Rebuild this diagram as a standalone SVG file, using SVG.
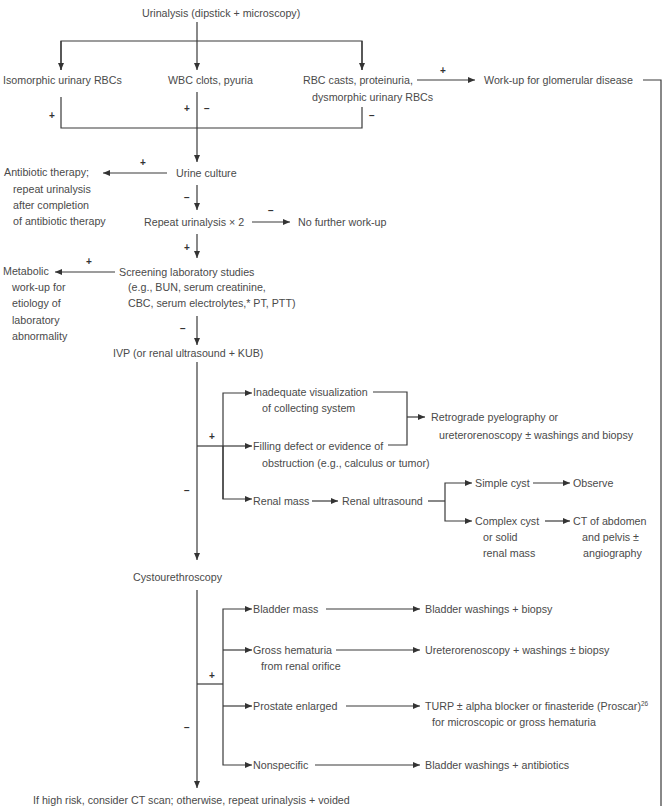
<svg xmlns="http://www.w3.org/2000/svg" width="664" height="806" viewBox="0 0 664 806">
<defs>
<marker id="ah" markerUnits="userSpaceOnUse" markerWidth="8" markerHeight="6" refX="7" refY="3" orient="auto">
<path d="M0,0 L7,3 L0,6 z" fill="#333"/>
</marker>
<style>
text{font-family:"Liberation Sans","DejaVu Sans",sans-serif;font-size:10.7px;fill:#4a4a4a}
.s{font-size:10px;font-weight:bold;fill:#333;text-anchor:middle}
.c{fill:none;stroke:#3a3a3a;stroke-width:1.2}
.a{marker-end:url(#ah)}
</style>
</defs>
<rect width="664" height="806" fill="#fff"/>
<g id="connectors">
<path class="c a" d="M197,22 V70"/>
<path class="c" d="M61,70 V41 H362 V70"/>
<path class="c a" d="M61,41 V70"/>
<path class="c a" d="M362,41 V70"/>
<path class="c" d="M61,97 V128 H362 V107"/>
<path class="c a" d="M197,92 V162"/>
<path class="c a" d="M417,80 H475"/>
<path class="c" d="M643,80 H661 V806"/>
<path class="c a" d="M167,173 H103"/>
<path class="c a" d="M197,185 V210"/>
<path class="c a" d="M252,222 H290"/>
<path class="c a" d="M197,234 V258"/>
<path class="c a" d="M115,272 H55"/>
<path class="c a" d="M197,316 V345"/>
<path class="c a" d="M197,362 V560"/>
<path class="c" d="M197,446 H223"/>
<path class="c a" d="M223,446 H252"/>
<path class="c a" d="M223,499 V393 H252"/>
<path class="c a" d="M223,446 V499 H252"/>
<path class="c" d="M373,392 H407 V445 H388"/>
<path class="c a" d="M407,417 H425"/>
<path class="c a" d="M312,501 H338"/>
<path class="c" d="M428,501 H445"/>
<path class="c a" d="M445,501 V483 H472"/>
<path class="c a" d="M445,501 V521 H472"/>
<path class="c a" d="M533,483 H570"/>
<path class="c a" d="M545,521 H570"/>
<path class="c a" d="M197,590 V788"/>
<path class="c" d="M197,684 H223"/>
<path class="c a" d="M223,684 V609 H252"/>
<path class="c a" d="M223,650 H252"/>
<path class="c a" d="M223,706 H252"/>
<path class="c a" d="M223,684 V765 H252"/>
<path class="c a" d="M326,609 H420"/>
<path class="c a" d="M336,650 H420"/>
<path class="c a" d="M346,706 H420"/>
<path class="c a" d="M315,765 H420"/>
</g>
<g id="signs">
<text class="s" x="443" y="74">+</text>
<text class="s" x="52" y="119">+</text>
<text class="s" x="187" y="112">+</text>
<text class="s" x="207" y="112">−</text>
<text class="s" x="372" y="119">−</text>
<text class="s" x="143" y="166">+</text>
<text class="s" x="187" y="201">−</text>
<text class="s" x="271" y="214">−</text>
<text class="s" x="187" y="251">+</text>
<text class="s" x="89" y="265">+</text>
<text class="s" x="183" y="332">−</text>
<text class="s" x="212" y="440">+</text>
<text class="s" x="187" y="494">−</text>
<text class="s" x="212" y="679">+</text>
<text class="s" x="187" y="731">−</text>
</g>
<g id="urinalysis"><text x="142" y="17">Urinalysis (dipstick + microscopy)</text></g>
<g id="isomorphic"><text x="3" y="84">Isomorphic urinary RBCs</text></g>
<g id="wbc"><text x="168" y="84">WBC clots, pyuria</text></g>
<g id="rbccasts"><text x="303" y="84">RBC casts, proteinuria,</text><text x="312" y="101">dysmorphic urinary RBCs</text></g>
<g id="glomerular"><text x="484" y="84">Work-up for glomerular disease</text></g>
<g id="urineculture"><text x="176" y="177">Urine culture</text></g>
<g id="antibiotic"><text x="4" y="176">Antibiotic therapy;</text><text x="13" y="193">repeat urinalysis</text><text x="13" y="209">after completion</text><text x="13" y="225">of antibiotic therapy</text></g>
<g id="repeat"><text x="144" y="226">Repeat urinalysis × 2</text></g>
<g id="nofurther"><text x="298" y="226">No further work-up</text></g>
<g id="screening"><text x="119" y="276">Screening laboratory studies</text><text x="128" y="291">(e.g., BUN, serum creatinine,</text><text x="128" y="307">CBC, serum electrolytes,* PT, PTT)</text></g>
<g id="metabolic"><text x="3" y="275">Metabolic</text><text x="12" y="291">work-up for</text><text x="12" y="307">etiology of</text><text x="12" y="324">laboratory</text><text x="12" y="340">abnormality</text></g>
<g id="ivp"><text x="113" y="357">IVP (or renal ultrasound + KUB)</text></g>
<g id="inadequate"><text x="253" y="396">Inadequate visualization</text><text x="262" y="412">of collecting system</text></g>
<g id="filling"><text x="253" y="450">Filling defect or evidence of</text><text x="262" y="467">obstruction (e.g., calculus or tumor)</text></g>
<g id="retrograde"><text x="431" y="421">Retrograde pyelography or</text><text x="439" y="439">ureterorenoscopy ± washings and biopsy</text></g>
<g id="renalmass"><text x="253" y="505">Renal mass</text></g>
<g id="renalus"><text x="342" y="505">Renal ultrasound</text></g>
<g id="simplecyst"><text x="475" y="487">Simple cyst</text></g>
<g id="observe"><text x="573" y="487">Observe</text></g>
<g id="complexcyst"><text x="475" y="525">Complex cyst</text><text x="483" y="541">or solid</text><text x="483" y="557">renal mass</text></g>
<g id="ct"><text x="573" y="525">CT of abdomen</text><text x="582" y="541">and pelvis ±</text><text x="583" y="557">angiography</text></g>
<g id="cysto"><text x="133" y="581">Cystourethroscopy</text></g>
<g id="bladdermass"><text x="253" y="613">Bladder mass</text></g>
<g id="bladderwash"><text x="425" y="613">Bladder washings + biopsy</text></g>
<g id="gross"><text x="253" y="654">Gross hematuria</text><text x="261" y="670">from renal orifice</text></g>
<g id="uretero"><text x="425" y="654">Ureterorenoscopy + washings ± biopsy</text></g>
<g id="prostate"><text x="253" y="710">Prostate enlarged</text></g>
<g id="turp"><text x="425" y="710">TURP ± alpha blocker or finasteride (Proscar)<tspan font-size="6.5" dy="-4">26</tspan></text><text x="432" y="726">for microscopic or gross hematuria</text></g>
<g id="nonspecific"><text x="253" y="769">Nonspecific</text></g>
<g id="bladderanti"><text x="425" y="769">Bladder washings + antibiotics</text></g>
<g id="highrisk"><text x="33" y="804">If high risk, consider CT scan; otherwise, repeat urinalysis + voided</text></g>
</svg>
